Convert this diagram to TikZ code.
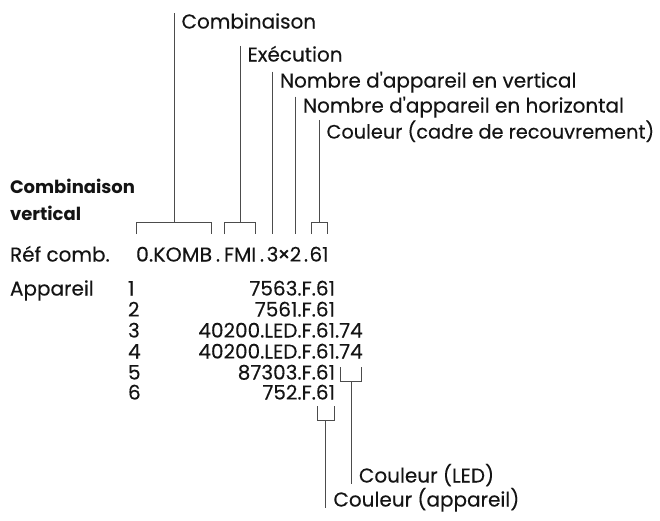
\documentclass[tikz,border=0pt]{standalone}
\usepackage{graphicx}
\usepackage{fontspec}
\setmainfont{Poppins}
\newfontfamily\regfont{Poppins}[FakeBold=0.25]
\begin{document}
\begin{tikzpicture}[x=1pt,y=-1pt,
  every node/.style={inner sep=0pt, outer sep=0pt, text=black!92},
  txt/.style={anchor=base west, font=\regfont\fontsize{20}{22}\selectfont},
  txte/.style={anchor=base east, font=\regfont\fontsize{20}{22}\selectfont},
  txtc/.style={anchor=base, font=\regfont\fontsize{20}{22}\selectfont},
  bld/.style={anchor=base west, font=\fontsize{18}{22}\selectfont\bfseries},
  ln/.style={draw=black!70, line width=0.9pt}]
\useasboundingbox (0,0) rectangle (660,520);
% left labels
\node[bld] (bc) at (10,193.5) {Combinaison};
\node[bld] (bv) at (10,220.5) {vertical};
\node[txt] (ref) at (10,261.5) {Réf comb.};
% code pieces
\node[txt] (c1) at (136,261.5) {\scalebox{1.03}[1]{0.KOMB}};
\node[txtc] (c2) at (218,261.5) {.};
\node[txt] (c3) at (224,261.5) {FMI};
\node[txtc] (c4) at (262,261.5) {.};
\node[txtc] (c5) at (272.5,261.5) {3};
\node[txtc] (c6) at (284,261.5) {×};
\node[txtc] (c7) at (295.5,261.5) {2};
\node[txtc] (c8) at (306,261.5) {.};
\node[txt] (c9) at (309.5,261.5) {61};
% bracket coordinates
\coordinate (k1) at (c1.center |- 0,222);
\coordinate (k3) at (c3.center |- 0,222);
\coordinate (k5) at (c5.center |- 0,234);
\coordinate (k7) at (c7.center |- 0,234);
\coordinate (k9) at (c9.center |- 0,222);
% top labels
\path (k1 |- 0,28.5) ++(7.5,0) node[txt] (l1) {Combinaison};
\path (k3 |- 0,61.5) ++(7.5,0) node[txt] (l3) {Exécution};
\path (k5 |- 0,87.5) ++(7.5,0) node[txt] (l5) {Nombre d'appareil en vertical};
\path (k7 |- 0,112.5) ++(7.5,0) node[txt] (l7) {Nombre d'appareil en horizontal};
\path (k9 |- 0,138.5) ++(7.5,0) node[txt, font=\regfont\fontsize{19.3}{22}\selectfont] (l9) {Couleur (cadre de recouvrement)};
% brackets
\draw[ln] ([xshift=0.5pt]c1.west |- 0,234) -- ([xshift=0.5pt]c1.west |- 0,222) -- ([xshift=-0.5pt]c1.east |- 0,222) -- ([xshift=-0.5pt]c1.east |- 0,234);
\draw[ln] ([xshift=0.5pt]c3.west |- 0,234) -- ([xshift=0.5pt]c3.west |- 0,222) -- ([xshift=-0.5pt]c3.east |- 0,222) -- ([xshift=-0.5pt]c3.east |- 0,234);
\draw[ln] ([xshift=1.5pt]c9.west |- 0,234) -- ([xshift=1.5pt]c9.west |- 0,222) -- ([xshift=-1.5pt]c9.east |- 0,222) -- ([xshift=-1.5pt]c9.east |- 0,234);
% leader lines
\draw[ln] (k1 |- l1.north) -- (k1);
\draw[ln] (k3 |- l3.north) -- (k3);
\draw[ln] (k5 |- l5.north) -- (k5);
\draw[ln] (k7 |- l7.north) -- (k7);
\draw[ln] (k9 |- l9.north) -- (k9);
% Appareil table
\node[txt] (app) at (10,295.5) {Appareil};
\node[txt] (n1) at (128,295.5) {1};
\node[txt] (n2) at (128,316.5) {2};
\node[txt] (n3) at (128,337.5) {3};
\node[txt] (n4) at (128,358.5) {4};
\node[txt] (n5) at (128,379.5) {5};
\node[txt] (n6) at (128,399.5) {6};
\node[txte] (r1) at (335,295.5) {7563.F.61};
\node[txte] (r2) at (335,316.5) {7561.F.61};
\node[txte] (r3) at (335,337.5) {40200.LED.F.61};
\node[txt] (r3d) at (r3.base east) {.};
\node[txt] (r3e) at (r3d.base east) {74};
\node[txte] (r4) at (335,358.5) {40200.LED.F.61};
\node[txt] (r4d) at (r4.base east) {.};
\node[txt] (r4e) at (r4d.base east) {74};
\node[txte] (r5) at (335,379.5) {87303.F.61};
\node[txte] (r6b) at (335,399.5) {61};
\node[txte] (r6a) at (r6b.base west) {752.F.};
% LED bracket
\coordinate (kl) at (r4e.center |- 0,381);
\draw[ln] ([xshift=1.5pt]r4e.west |- 0,367) -- ([xshift=1.5pt]r4e.west |- 0,381) -- ([xshift=-1pt]r4e.east |- 0,381) -- ([xshift=-1pt]r4e.east |- 0,367);
\path (kl |- 0,482.5) ++(8,0) node[txt] (led) {Couleur (LED)};
\draw[ln] (kl) -- (kl |- 0,484);
% appareil bracket
\coordinate (ka) at (r6b.center |- 0,420);
\draw[ln] ([xshift=1.5pt]r6b.west |- 0,406) -- ([xshift=1.5pt]r6b.west |- 0,420) -- ([xshift=-1pt]r6b.east |- 0,420) -- ([xshift=-1pt]r6b.east |- 0,406);
\path (ka |- 0,506.5) ++(8,0) node[txt] (appc) {Couleur (appareil)};
\draw[ln] (ka) -- (ka |- 0,508);
\end{tikzpicture}
\end{document}
